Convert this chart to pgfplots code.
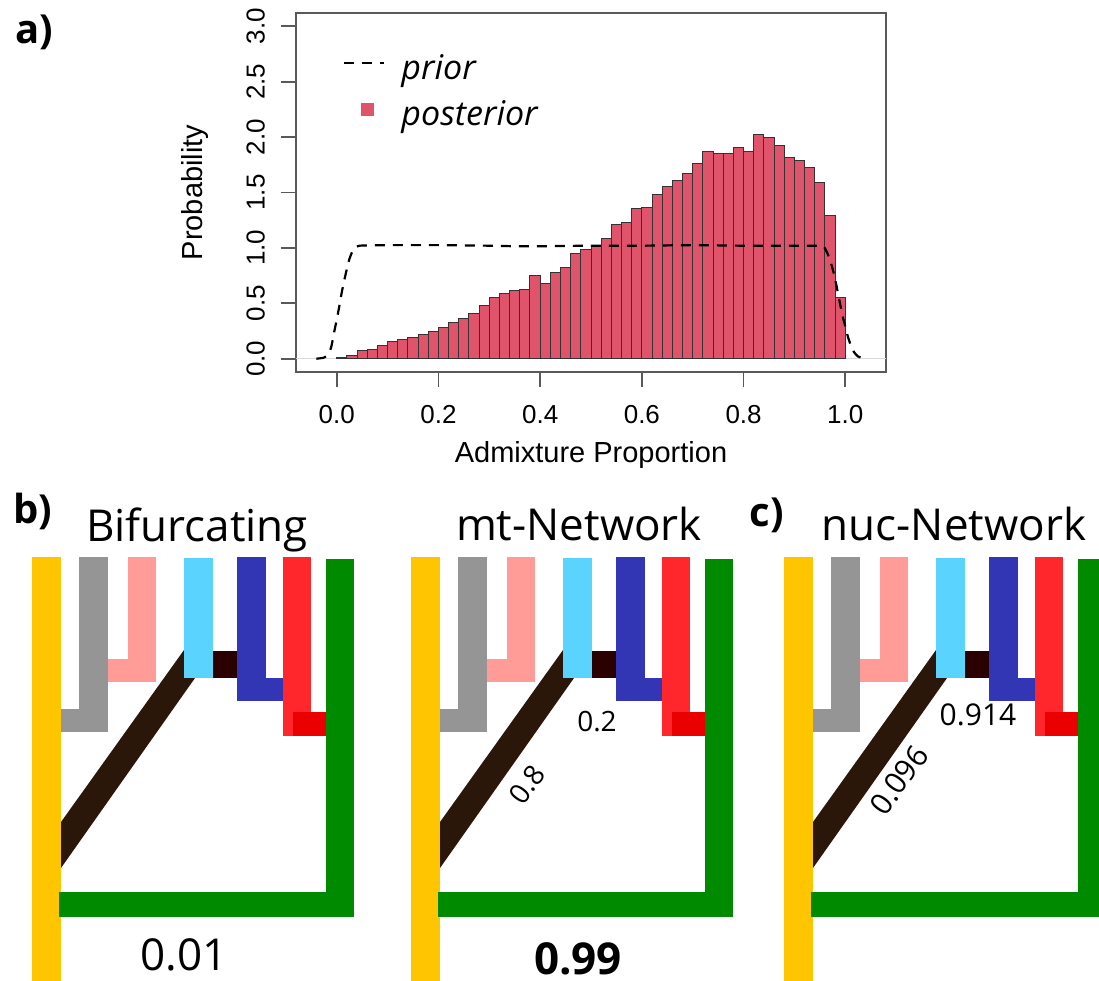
\documentclass[border=0pt]{standalone}
\usepackage{fontspec}
\setmainfont{Liberation Sans}
\newfontfamily\osans{Open Sans}
\usepackage{pgfplots}
\pgfplotsset{compat=1.18}

\definecolor{histred}{HTML}{DF536B}
\definecolor{cyellow}{HTML}{FFC600}
\definecolor{cgray}{HTML}{959595}
\definecolor{cpink}{HTML}{FF9C98}
\definecolor{clblue}{HTML}{5AD3FF}
\definecolor{cmaroon}{HTML}{2A0000}
\definecolor{cblue}{HTML}{3236B5}
\definecolor{cred}{HTML}{FF262C}
\definecolor{cdred}{HTML}{EA0000}
\definecolor{cgreen}{HTML}{008A00}
\definecolor{cdiag}{HTML}{2B160A}

% one filled box of a tree: colour, x1, x2, y1, y2 (pixels, y down)
\newcommand\rect[5]{\addplot[fill=#1,draw=none] coordinates {(#2,#4) (#3,#4) (#3,#5) (#2,#5)} -- cycle;}
\newcommand\drawtree{%
  \addplot[fill=cdiag,draw=none] coordinates {(61,822) (184,650) (195,678) (61,868)} -- cycle;
  \rect{cyellow}{32}{61}{557}{990}
  \rect{cgray}{61}{108}{709}{732}
  \rect{cgray}{79}{108}{557}{732}
  \rect{cpink}{108}{156}{659}{682}
  \rect{cpink}{128}{156}{557}{682}
  \rect{clblue}{184}{213}{558}{678}
  \rect{cmaroon}{213}{237}{651}{678}
  \rect{cblue}{237}{283}{678}{701}
  \rect{cblue}{237}{266}{557}{701}
  \rect{cred}{283}{311}{557}{736}
  \rect{cdred}{293}{326}{712}{736}
  \rect{cgreen}{326}{354}{559}{917}
  \rect{cgreen}{59}{354}{892}{917}
}
\pgfplotsset{treeaxis/.style={scale only axis, hide axis, clip=false,
  width=200pt, height=225pt, xmin=0, xmax=400, ymin=540, ymax=990,
  y dir=reverse, anchor=north west}}
\newcommand\ttl{\osans\fontsize{22}{26}\selectfont}
\newcommand\pnl{\osans\bfseries\fontsize{20}{24}\selectfont}

\begin{document}
\begin{tikzpicture}
\path[use as bounding box] (0pt,0pt) rectangle (549.5pt,-490.5pt);

% b) Bifurcating
\begin{axis}[treeaxis, at={(0pt,-270pt)}]
  \drawtree
  \node[font=\pnl] at (axis cs:34,32) {a)};
  \node[font=\pnl] at (axis cs:33,511) {b)};
  \node[font=\ttl, anchor=base] at (axis cs:197,541) {Bifurcating};
  \node[font=\ttl, inner sep=0pt] at (axis cs:184,955) {0.01};
\end{axis}

% mt-Network
\begin{axis}[treeaxis, at={(189.5pt,-270pt)}]
  \drawtree
  \node[font=\ttl, anchor=base] at (axis cs:200,540) {mt-Network};
  \node[font=\osans\fontsize{14}{16}\selectfont, inner sep=0pt] at (axis cs:218,722) {0.2};
  \node[font=\osans\fontsize{14}{16}\selectfont, rotate=54, inner sep=0pt] at (axis cs:148,785) {0.8};
  \node[font=\ttl\bfseries, inner sep=0pt] at (axis cs:199,959) {0.99};
\end{axis}

% c) nuc-Network
\begin{axis}[treeaxis, at={(376pt,-270pt)}]
  \drawtree
  \node[font=\pnl] at (axis cs:15,515) {c)};
  \node[font=\ttl, anchor=base] at (axis cs:202,540) {nuc-Network};
  \node[font=\osans\fontsize{15}{17}\selectfont, inner sep=0pt] at (axis cs:226,715) {0.914};
  \node[font=\osans\fontsize{15}{17}\selectfont, rotate=54, inner sep=0pt] at (axis cs:147,780) {0.096};
\end{axis}

% a) histogram
\begin{axis}[
  at={(148pt,-186pt)}, anchor=south west,
  scale only axis, width=295pt, height=179.5pt,
  xmin=-0.08, xmax=1.08, ymin=-0.12, ymax=3.12,
  axis line style={draw=black!65, line width=0.9pt},
  xtick={0,0.2,0.4,0.6,0.8,1}, xticklabels={0.0,0.2,0.4,0.6,0.8,1.0},
  ytick={0,0.5,1,1.5,2,2.5,3}, yticklabels={0.0,0.5,1.0,1.5,2.0,2.5,3.0},
  xtick pos=bottom, ytick pos=left, tick align=outside,
  major tick length=7.5pt, tick style={draw=black!65, line width=0.9pt},
  tick label style={font=\fontsize{13}{15}\selectfont},
  xticklabel style={yshift=-5.5pt},
  yticklabel style={rotate=90, anchor=south, yshift=4.5pt},
  label style={font=\fontsize{14.5}{17}\selectfont},
  xlabel={Admixture Proportion}, ylabel={Probability},
  xlabel style={at={(axis description cs:0.5,0)}, anchor=center, yshift=-41.5pt},
  ylabel style={at={(axis description cs:0,0.5)}, anchor=center, yshift=50.5pt},
  /pgf/number format/assume math mode=true,
  legend style={at={(axis cs:0.0124,2.755)}, anchor=north west, draw=none, fill=none,
    inner sep=0pt, row sep=6pt, font=\osans\itshape\fontsize{17}{20}\selectfont,
    nodes={inner sep=0pt, text height=13pt, text depth=4pt}},
  legend cell align=left,
]
  \addplot[black!15, line width=0.5pt, forget plot] coordinates {(-0.08,0) (1.08,0)};
  \addplot[ybar interval, fill=histred, draw=black!80, line width=0.5pt, forget plot] coordinates {
    (0.00,0.012) (0.02,0.027) (0.04,0.078) (0.06,0.081) (0.08,0.123)
    (0.10,0.159) (0.12,0.177) (0.14,0.195) (0.16,0.216) (0.18,0.249)
    (0.20,0.279) (0.22,0.330) (0.24,0.366) (0.26,0.411) (0.28,0.480)
    (0.30,0.556) (0.32,0.589) (0.34,0.619) (0.36,0.628) (0.38,0.754)
    (0.40,0.682) (0.42,0.778) (0.44,0.826) (0.46,0.952) (0.48,0.985)
    (0.50,1.012) (0.52,1.084) (0.54,1.213) (0.56,1.231) (0.58,1.357)
    (0.60,1.363) (0.62,1.483) (0.64,1.553) (0.66,1.607) (0.68,1.676)
    (0.70,1.760) (0.72,1.874) (0.74,1.853) (0.76,1.856) (0.78,1.910)
    (0.80,1.871) (0.82,2.024) (0.84,2.000) (0.86,1.928) (0.88,1.820)
    (0.90,1.787) (0.92,1.727) (0.94,1.586) (0.96,1.297) (0.98,0.556)
    (1.00,0.556)};
  \addplot[black, line width=1.1pt, dash pattern=on 5pt off 4pt, smooth, tension=0.3, forget plot] coordinates {
    (-0.04,0) (-0.025,0.01) (-0.015,0.05) (-0.01,0.12) (-0.005,0.24)
    (0,0.35) (0.005,0.47) (0.01,0.6) (0.015,0.71) (0.02,0.81) (0.025,0.9)
    (0.03,0.96) (0.035,1.0) (0.045,1.02) (0.1,1.025) (0.2,1.025) (0.3,1.02)
    (0.35,1.015) (0.4,1.015) (0.5,1.02) (0.6,1.02) (0.7,1.025) (0.8,1.02)
    (0.9,1.02) (0.95,1.02) (0.958,1.01) (0.965,0.95) (0.972,0.86)
    (0.978,0.76) (0.983,0.65) (0.989,0.51) (0.995,0.38) (1.0,0.29)
    (1.005,0.2) (1.01,0.13) (1.017,0.06) (1.025,0.02) (1.04,0)};
  \addlegendimage{legend image code/.code={\draw[black, line width=1.1pt, dash pattern=on 5pt off 4pt] (0pt,4pt) -- (20pt,4pt); \path[draw=none] (0pt,0pt) -- (28.5pt,0pt);}}
  \addlegendimage{legend image code/.code={\fill[histred, draw=none] (8.25pt,0.25pt) rectangle (14.75pt,6.75pt); \path[draw=none] (0pt,0pt) -- (28.5pt,0pt);}}
  \legend{prior,posterior}
\end{axis}
\end{tikzpicture}
\end{document}
